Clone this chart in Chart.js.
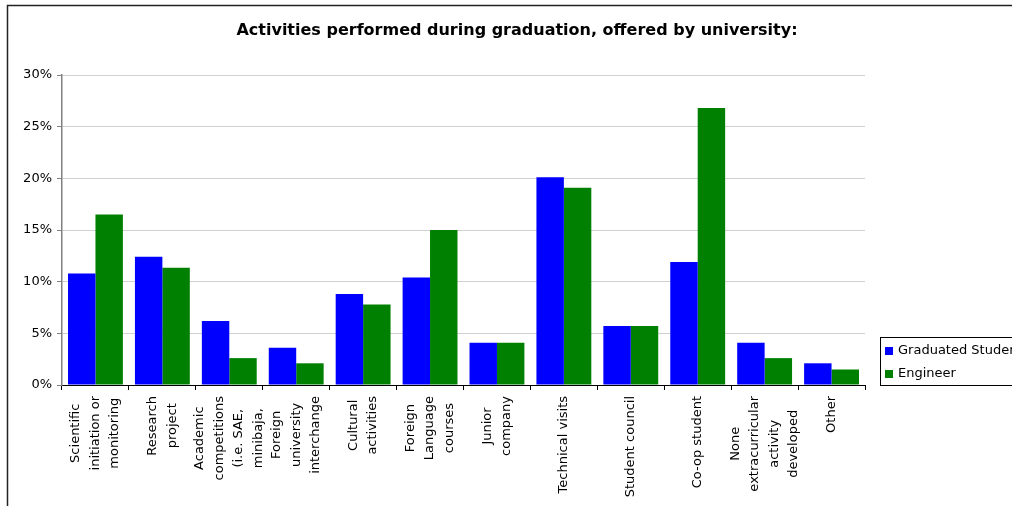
<!DOCTYPE html>
<html>
<head>
<meta charset="utf-8">
<script src="https://cdn.jsdelivr.net/npm/chart.js@4.4.1/dist/chart.umd.min.js"></script>
<style>
    html, body { margin: 0; padding: 0; background: #fff; }
    canvas { display: block; }
</style>
</head>
<body>
<canvas id="graficoAtividades" width="1012" height="506"></canvas>
<script>
// Rótulos das categorias (cada linha do rótulo é um item)
const categorias = [
    ['Scientific', 'initiation or', 'monitoring'],
    ['Research', 'project'],
    ['Academic', 'competitions', '(i.e. SAE,', 'minibaja,'],
    ['Foreign', 'university', 'interchange'],
    ['Cultural', 'activities'],
    ['Foreign', 'Language', 'courses'],
    ['Junior', 'company'],
    ['Technical visits'],
    ['Student council'],
    ['Co-op student'],
    ['None', 'extracurricular', 'activity', 'developed'],
    ['Other']
];

// Percentuais por categoria
const graduados = [10.8, 12.4, 6.2, 3.6, 8.8, 10.4, 4.1, 20.1, 5.7, 11.9, 4.1, 2.1];
const engenheiros = [16.5, 11.35, 2.6, 2.1, 7.8, 15.0, 4.1, 19.1, 5.7, 26.8, 2.6, 1.5];

const nomesSeries = ['Graduated Students', 'Engineer'];
const coresSeries = ['#0000ff', '#008000'];
const ticksY = [0, 5, 10, 15, 20, 25, 30];

const titulo = 'Activities performed during graduation, offered by university:';
const fonte = '"DejaVu Sans", Verdana, sans-serif';

/**
 * Moldura, título, rótulos do eixo X e legenda desenhados à mão
 */
const extras = {
    id: 'extras',
    afterDraw(chart) {
        const ctx = chart.ctx;
        const eixoX = chart.scales.x;

        ctx.save();

        // Moldura externa
        ctx.strokeStyle = '#222';
        ctx.lineWidth = 1.5;
        ctx.strokeRect(7.5, 5.5, 1100, 600);

        // Título
        ctx.fillStyle = '#000';
        ctx.font = 'bold 16px ' + fonte;
        ctx.textAlign = 'center';
        ctx.textBaseline = 'middle';
        ctx.fillText(titulo, 517, 31);

        // Rótulos das categorias, girados e centralizados entre si
        ctx.font = '13px ' + fonte;
        const alturaLinha = 19.5;
        const topo = 396;
        chart.data.labels.forEach((linhas, i) => {
            const x = eixoX.getPixelForValue(i);
            const maior = Math.max(...linhas.map(l => ctx.measureText(l).width));
            ctx.save();
            ctx.translate(x, topo + maior / 2);
            ctx.rotate(-Math.PI / 2);
            linhas.forEach((l, j) => {
                ctx.fillText(l, 0, (j - (linhas.length - 1) / 2) * alturaLinha);
            });
            ctx.restore();
        });

        // Legenda
        ctx.strokeStyle = '#000';
        ctx.lineWidth = 1;
        ctx.strokeRect(880.5, 337.5, 200, 48);
        ctx.textAlign = 'left';
        chart.data.datasets.forEach((ds, i) => {
            const y = 351 + i * 23;
            ctx.fillStyle = ds.backgroundColor;
            ctx.fillRect(885, y - 4, 8, 8);
            ctx.fillStyle = '#000';
            ctx.fillText(ds.label, 898, y);
        });

        ctx.restore();
    }
};

new Chart(document.getElementById('graficoAtividades'), {
    type: 'bar',
    data: {
        labels: categorias,
        datasets: [
            {
                label: nomesSeries[0],
                data: graduados,
                backgroundColor: coresSeries[0],
                borderWidth: 0,
                categoryPercentage: 0.82,
                barPercentage: 1.0
            },
            {
                label: nomesSeries[1],
                data: engenheiros,
                backgroundColor: coresSeries[1],
                borderWidth: 0,
                categoryPercentage: 0.82,
                barPercentage: 1.0
            }
        ]
    },
    options: {
        responsive: false,
        animation: false,
        devicePixelRatio: 1,
        layout: {
            padding: { top: 75, right: 147, left: 0, bottom: 0 }
        },
        plugins: {
            legend: { display: false },
            title: { display: false },
            tooltip: { enabled: false }
        },
        scales: {
            x: {
                afterFit: s => { s.height = 121; },
                ticks: { display: false },
                grid: {
                    drawOnChartArea: false,
                    drawTicks: true,
                    tickLength: 5,
                    color: '#000'
                },
                border: { color: '#000', width: 1 }
            },
            y: {
                min: 0,
                max: 30,
                afterFit: s => { s.width = 62; },
                afterBuildTicks: s => { s.ticks = ticksY.map(v => ({ value: v })); },
                ticks: {
                    padding: 5,
                    color: '#000',
                    font: { family: fonte, size: 13 },
                    callback: v => v + '%'
                },
                grid: {
                    color: '#d0d0d0',
                    tickColor: '#808080',
                    tickLength: 5
                },
                border: { color: '#808080', width: 1.5 }
            }
        }
    },
    plugins: [extras]
});
</script>
</body>
</html>
